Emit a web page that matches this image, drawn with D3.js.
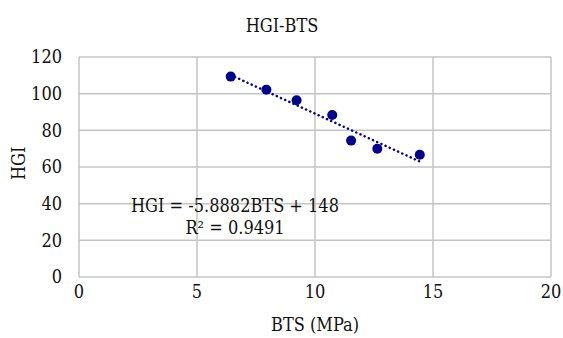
<!doctype html>
<html>
<head>
  <meta charset="UTF-8" />
  <title>HGI-BTS</title>
  <style>
    html, body { margin: 0; padding: 0; background: #fff; }
    .grid line { stroke: #c4c4c4; stroke-width: 1.5px; }
  </style>
</head>
<body>
  <script src="https://d3js.org/d3.v7.min.js"></script>
  <script>
    // data
    const bts = [6.43, 7.94, 9.22, 10.73, 11.53, 12.64, 14.44];
    const hgi = [109.3, 102.2, 96.4, 88.4, 74.4, 70.0, 66.7];
    const xTicks = [0, 5, 10, 15, 20];
    const yTicks = [0, 20, 40, 60, 80, 100, 120];
    const slope = -5.8882, intercept = 148;
    const eqLines = ['HGI = -5.8882BTS + 148', 'R² = 0.9491'];

    const width = 563, height = 338;
    const margin = { top: 57, right: 12, bottom: 61, left: 79 };
    const fs = 18;

    const svg = d3.select('body').append('svg')
      .attr('width', width)
      .attr('height', height)
      .style('font-family', "'DejaVu Serif Condensed', 'DejaVu Serif', serif")
      .style('font-stretch', 'condensed');

    const x = d3.scaleLinear().domain([0, 20]).range([margin.left, width - margin.right]);
    const y = d3.scaleLinear().domain([0, 120]).range([height - margin.bottom, margin.top]);

    // gridlines
    const grid = svg.append('g').attr('class', 'grid');
    grid.selectAll('line.h').data(yTicks).join('line')
      .attr('class', 'h')
      .attr('x1', x(0)).attr('x2', x(20))
      .attr('y1', d => y(d)).attr('y2', d => y(d));
    grid.selectAll('line.v').data(xTicks).join('line')
      .attr('class', 'v')
      .attr('x1', d => x(d)).attr('x2', d => x(d))
      .attr('y1', y(0)).attr('y2', y(120));

    // tick labels
    svg.append('g').selectAll('text').data(yTicks).join('text')
      .attr('x', x(0) - 17)
      .attr('y', d => y(d))
      .attr('dy', '0.35em')
      .attr('text-anchor', 'end')
      .attr('font-size', fs)
      .attr('fill', '#111')
      .text(d => d);

    svg.append('g').selectAll('text').data(xTicks).join('text')
      .attr('x', d => x(d))
      .attr('y', y(0) + 21)
      .attr('text-anchor', 'middle')
      .attr('font-size', fs)
      .attr('fill', '#111')
      .text(d => d);

    // titles
    svg.append('text')
      .attr('x', 282).attr('y', 32)
      .attr('text-anchor', 'middle')
      .attr('font-size', fs)
      .attr('fill', '#111')
      .text('HGI-BTS');

    svg.append('text')
      .attr('x', x(10)).attr('y', 331)
      .attr('text-anchor', 'middle')
      .attr('font-size', fs)
      .attr('fill', '#111')
      .text('BTS (MPa)');

    svg.append('text')
      .attr('transform', `translate(25,${y(62)}) rotate(-90)`)
      .attr('text-anchor', 'middle')
      .attr('font-size', fs)
      .attr('fill', '#111')
      .text('HGI');

    // trendline
    const xMin = d3.min(bts), xMax = d3.max(bts);
    svg.append('line')
      .attr('x1', x(xMin)).attr('y1', y(slope * xMin + intercept))
      .attr('x2', x(xMax)).attr('y2', y(slope * xMax + intercept))
      .attr('stroke', '#00008b')
      .attr('stroke-width', 2.5)
      .attr('stroke-dasharray', '0.1,4.5')
      .attr('stroke-linecap', 'round');

    // points
    svg.append('g').selectAll('circle').data(bts).join('circle')
      .attr('cx', d => x(d))
      .attr('cy', (d, i) => y(hgi[i]))
      .attr('r', 5)
      .attr('fill', '#00008b');

    // equation
    svg.append('g').selectAll('text').data(eqLines).join('text')
      .attr('x', 235)
      .attr('y', (d, i) => 212 + i * 22)
      .attr('text-anchor', 'middle')
      .attr('font-size', fs)
      .attr('fill', '#111')
      .text(d => d);
  </script>
</body>
</html>
